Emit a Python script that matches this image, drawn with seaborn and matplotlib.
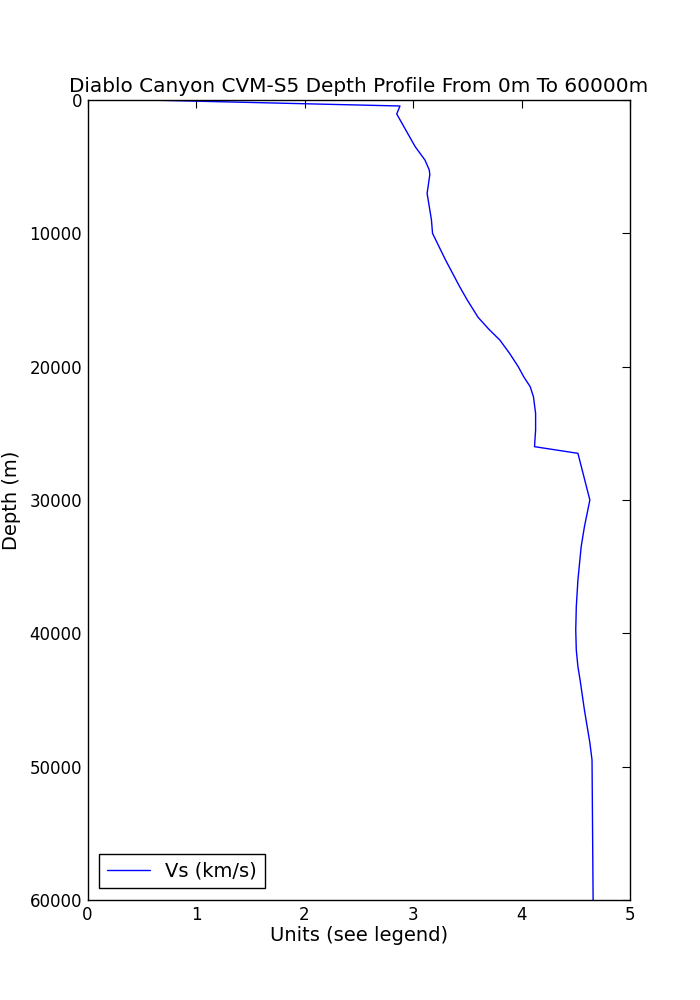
import numpy as np
import pandas as pd
import matplotlib
matplotlib.use("Agg")
import matplotlib.pyplot as plt
import seaborn as sns

# depth profile
depth = [0, 450, 1050, 3500, 4500, 5250, 5600, 7000, 9000, 10000, 12000, 14000,
         15000, 16300, 17200, 18000, 19000, 20000, 20750, 21500, 22250, 23500,
         24750, 26000, 26500, 30000, 32000, 33500, 36000, 38000, 39750, 41250,
         42500, 43500, 45750, 48200, 49500, 60000]
vs = [0.55, 2.88, 2.85, 3.02, 3.11, 3.15, 3.155, 3.13, 3.17, 3.18, 3.3, 3.43,
      3.5, 3.6, 3.7, 3.8, 3.89, 3.97, 4.02, 4.08, 4.11, 4.13,
      4.13, 4.12, 4.52, 4.63, 4.58, 4.55, 4.52, 4.505, 4.50, 4.505,
      4.52, 4.54, 4.58, 4.63, 4.65, 4.66]

df = pd.DataFrame({"Depth": depth, "Vs (km/s)": vs})

sns.set_style("white")
plt.rcParams["font.family"] = ["DejaVu Sans"]
plt.rcParams.update({"text.color": "black", "axes.labelcolor": "black",
                     "xtick.color": "black", "ytick.color": "black"})

fig = plt.figure(figsize=(7, 10), dpi=100)
ax = fig.add_axes([0.125, 0.1, 0.775, 0.8])

sns.lineplot(data=df, x="Vs (km/s)", y="Depth", sort=False, estimator=None,
             color="#0000ff", linewidth=1.0, label="Vs (km/s)", ax=ax)

ax.set_xlim(0, 5)
ax.set_ylim(60000, 0)
ax.set_xticks([0, 1, 2, 3, 4, 5])
ax.set_yticks([0, 10000, 20000, 30000, 40000, 50000, 60000])
ax.tick_params(direction="in", length=6, width=0.8, top=True, right=True,
               labelsize=12, pad=4, color="black")
for s in ax.spines.values():
    s.set_color("black")
    s.set_linewidth(1.0)

ax.set_title("Diablo Canyon CVM-S5 Depth Profile From 0m To 60000m", fontsize=14.4)
ax.set_xlabel("Units (see legend)", fontsize=14, labelpad=2)
ax.set_ylabel("Depth (m)", fontsize=14, labelpad=6)

leg = ax.legend(loc="lower left", fontsize=14, frameon=True, fancybox=False,
                edgecolor="black", framealpha=1, borderaxespad=0.6,
                handlelength=2.2)
leg.get_frame().set_linewidth(1.0)

fig.savefig("out.png", dpi=100)
